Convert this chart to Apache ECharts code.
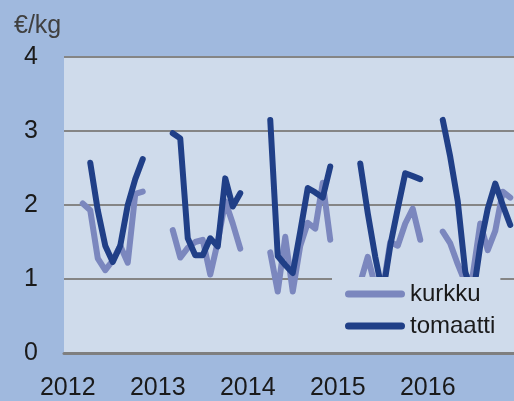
<!DOCTYPE html>
<html>
<head>
<meta charset="utf-8">
<script src="https://cdn.jsdelivr.net/npm/echarts@6/dist/echarts.min.js"></script>
<style>
html,body{margin:0;padding:0;background:#a0b9de;}
#chart{width:514px;height:401px;}
</style>
</head>
<body>
<div id="chart"></div>
<script>
// Years and months (category axis: one category per month)
var years = ['2012', '2013', '2014', '2015', '2016'];
var months = ['01','02','03','04','05','06','07','08','09','10','11','12'];
var unitLabel = '€/kg';
var seriesNames = ['kurkku', 'tomaatti'];

// kurkku (cucumber) monthly prices, €/kg, Jan..Dec
var kurkku2012 = [null, null, 2.02, 1.93, 1.28, 1.12, 1.25, 1.45, 1.22, 2.15, 2.18, null];
var kurkku2013 = [null, null, 1.66, 1.29, 1.42, 1.50, 1.53, 1.06, 1.50, 2.05, 1.75, 1.41];
var kurkku2014 = [null, null, null, 1.36, 0.83, 1.57, 0.83, 1.45, 1.76, 1.68, 2.30, 1.53];
var kurkku2015 = [null, null, null, 0.95, 1.30, 0.90, 0.85, 1.50, 1.45, 1.75, 1.95, 1.53];
var kurkku2016 = [null, null, 1.64, 1.48, 1.20, 0.95, 1.05, 1.75, 1.39, 1.65, 2.18, 2.10];

// tomaatti (tomato) monthly prices, €/kg, Jan..Dec
var tomaatti2012 = [null, null, null, 2.57, 1.93, 1.45, 1.23, 1.45, 2.00, 2.35, 2.62, null];
var tomaatti2013 = [null, null, 2.97, 2.90, 1.55, 1.32, 1.32, 1.55, 1.44, 2.36, 1.98, 2.16];
var tomaatti2014 = [null, null, null, 3.15, 1.31, 1.19, 1.08, 1.64, 2.23, 2.17, 2.10, 2.52];
var tomaatti2015 = [null, null, null, 2.56, 1.89, 1.30, 0.80, 1.45, 1.95, 2.43, 2.39, 2.35];
var tomaatti2016 = [null, null, 3.15, 2.65, 2.05, 1.10, 0.75, 1.45, 1.95, 2.29, 2.00, 1.73];

var categories = [];
years.forEach(function (y) { months.forEach(function (m) { categories.push(y + '-' + m); }); });
var kurkku = [].concat(kurkku2012, kurkku2013, kurkku2014, kurkku2015, kurkku2016);
var tomaatti = [].concat(tomaatti2012, tomaatti2013, tomaatti2014, tomaatti2015, tomaatti2016);

var FONT = "'Liberation Sans', Arial, sans-serif";
var PILL = 'path://M3.5,0 L56.5,0 A3.5,3.5 0 0 1 56.5,7 L3.5,7 A3.5,3.5 0 0 1 3.5,0 Z';
var chart = echarts.init(document.getElementById('chart'), null, {renderer: 'canvas'});
chart.setOption({
  backgroundColor: '#a0b9de',
  animation: false,
  title: {
    text: unitLabel, left: 14, top: 14, padding: 0,
    textStyle: {fontFamily: FONT, fontSize: 25, fontWeight: 'normal', color: '#404040'}
  },
  grid: {
    left: 64, right: -3, top: 57, bottom: 48,
    show: true, backgroundColor: '#cfdbeb', borderWidth: 0
  },
  legend: {
    orient: 'vertical', left: 332, top: 277,
    padding: [4, 5, 10, 13],
    itemGap: 6, itemWidth: 60, itemHeight: 7,
    backgroundColor: '#cfdbeb',
    data: [
      {name: seriesNames[0], icon: PILL},
      {name: seriesNames[1], icon: PILL}
    ],
    textStyle: {fontFamily: FONT, fontSize: 24, color: '#1a1a1a', lineHeight: 26}
  },
  xAxis: {
    type: 'category', data: categories, boundaryGap: true,
    axisLine: {lineStyle: {color: '#7f7f7f', width: 3}},
    axisTick: {show: false},
    axisLabel: {
      interval: function (i) { return i % 12 === 0; },
      formatter: function (v) { return v.slice(0, 4); },
      fontFamily: FONT, fontSize: 25, color: '#1a1a1a', margin: 23
    },
    splitLine: {show: false}
  },
  yAxis: {
    type: 'value', min: 0, max: 4, interval: 1,
    axisLine: {show: false}, axisTick: {show: false},
    axisLabel: {fontFamily: FONT, fontSize: 25, color: '#1a1a1a', margin: 26},
    splitLine: {lineStyle: {color: '#858585', width: 2}}
  },
  series: [
    {
      name: seriesNames[0], type: 'line', data: kurkku, showSymbol: false, symbol: 'none',
      connectNulls: false, color: '#7b87be',
      lineStyle: {width: 6, color: '#7b87be', cap: 'round', join: 'round'}
    },
    {
      name: seriesNames[1], type: 'line', data: tomaatti, showSymbol: false, symbol: 'none',
      connectNulls: false, color: '#203f87',
      lineStyle: {width: 6, color: '#203f87', cap: 'round', join: 'round'}
    }
  ]
});
</script>
</body>
</html>
